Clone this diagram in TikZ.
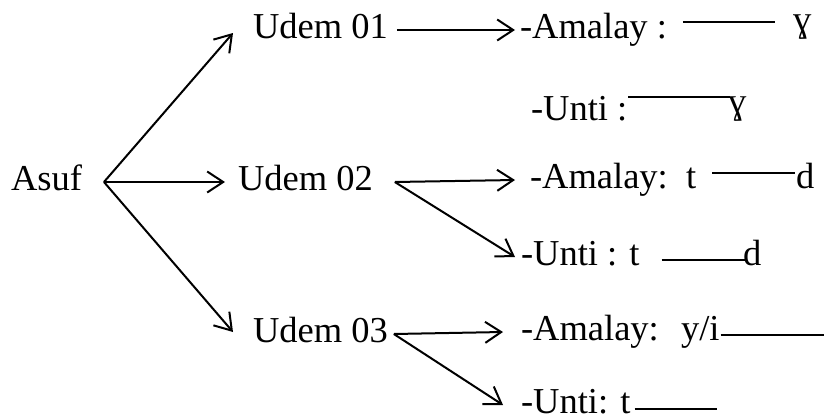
\documentclass[tikz,border=0pt]{standalone}
\usepackage{fontspec}
\setmainfont{Liberation Serif}
\usetikzlibrary{arrows.meta}

\begin{document}
\begin{tikzpicture}[%
    x=1pt,
    y=-1pt,
    >={Straight Barb[length=16pt,width=21pt]},
    ->,
    line width=2pt,
    word/.style={%
      anchor=west,
      inner sep=0pt,
      text height=20pt,
      text depth=4pt,
      font=\fontsize{36.5}{40}\selectfont
    }
  ]
    \useasboundingbox (0,0) rectangle (824,418);

    \node[word] (asuf)  at (10,182)  {Asuf};
    \node[word] (udem1) at (252,30)  {Udem 01};
    \node[word] (udem2) at (237,182) {Udem 02};
    \node[word] (udem3) at (252,334) {Udem 03};

    \node[word] (am1) at (519,30)  {-Amalay :};
    \node[word] (g1)  at (792,23)  {ɣ};
    \node[word] (un2) at (530,112) {-Unti :};
    \node[word] (g2)  at (727,105) {ɣ};
    \node[word] (am3) at (529,180) {-Amalay:};
    \node[word] (t3)  at (685,180) {t};
    \node[word] (d3)  at (795,180) {d};
    \node[word] (un4) at (520,257) {-Unti : t};
    \node[word] (d4)  at (742,257) {d};
    \node[word] (am5) at (520,332) {-Amalay:};
    \node[word] (yi5) at (680,332) {y/i};
    \node[word] (un6) at (520,405) {-Unti: t};

    \coordinate (f0) at ([xshift=21pt]asuf.east);
    \coordinate (f1) at ([xshift=8pt]udem1.east);
    \coordinate (f2) at ([xshift=21pt]udem2.east);
    \coordinate (f3) at ([xshift=5pt]udem3.east);
    \coordinate (e5) at (824,335);
    \coordinate (e6) at (717,409);

    \path (f0) edge ([xshift=-19pt,yshift=-3pt]udem1.west)
          (f0) edge ([xshift=-12pt]udem2.west)
          (f0) edge ([xshift=-19pt,yshift=2pt]udem3.west)
          (f1) edge ([xshift=-4pt]am1.west)
          (f2) edge ([xshift=-14pt]am3.west)
          (f2) edge ([xshift=-5pt]un4.west)
          (f3) edge ([xshift=-17pt]am5.west)
          (f3) edge ([xshift=-17pt]un6.west);

    % the plain bars inside the rows
    \draw[-] ([xshift=15pt,yshift=8pt]am1.east) -- ([xshift=-17pt,yshift=1pt]g1.west);
    \draw[-] ([yshift=15pt]un2.east) -- ([xshift=3pt,yshift=8pt]g2.west);
    \draw[-] ([xshift=15pt,yshift=7pt]t3.east) -- ([yshift=7pt]d3.west);
    \draw[-] ([xshift=21pt,yshift=-3pt]un4.east) -- ([xshift=5pt,yshift=-3pt]d4.west);
    \draw[-] ([yshift=-3pt]yi5.east) -- (e5);
    \draw[-] ([xshift=3pt,yshift=-4pt]un6.east) -- (e6);
  \end{tikzpicture}
\end{document}
